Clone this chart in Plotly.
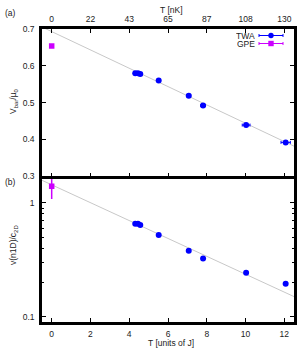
import numpy as np
import plotly.graph_objects as go

# ---- data ----
T_twa = [4.31, 4.45, 4.57, 5.52, 7.07, 7.81, 10.03, 12.07]          # T [units of J]
T_twa_err = [0.05, 0.05, 0.05, 0.08, 0.10, 0.12, 0.20, 0.24]
Vbar_twa = [0.580, 0.580, 0.578, 0.560, 0.519, 0.492, 0.439, 0.392]  # V_bar/mu_0
v_twa = [0.655, 0.655, 0.640, 0.523, 0.380, 0.325, 0.243, 0.195]     # v(n1D)/c_2D

T_gpe = [0.0]
Vbar_gpe = [0.654]
v_gpe = [1.40]
v_gpe_err_plus = [0.40]
v_gpe_err_minus = [0.32]

# fit lines (grey)
fitA_a, fitA_b = 0.693, -0.0249        # linear: V = a + b T
fitB_a, fitB_b = 1.44, -0.0785         # log: v = a * 10^(b T)

x_ticks = [0, 2, 4, 6, 8, 10, 12]
x_top_labels = ["0", "22", "43", "65", "87", "108", "130"]

BLUE = "#0000ff"
MAG = "#cc00ff"
GREY = "#c8c8c8"
TXT = "#222222"
FONT = "Liberation Sans"
FS = 8.5

T_line = np.linspace(-0.5, 12.5, 60)

fig = go.Figure()

# panel (a)
fig.add_trace(go.Scatter(x=T_line, y=fitA_a + fitA_b * T_line, mode="lines",
                         line=dict(color=GREY, width=1), xaxis="x2", yaxis="y2",
                         showlegend=False, hoverinfo="skip"))
fig.add_trace(go.Scatter(x=T_twa, y=Vbar_twa, mode="markers", xaxis="x2", yaxis="y2",
                         marker=dict(color=BLUE, size=6, symbol="circle"),
                         error_x=dict(type="data", array=T_twa_err, color=BLUE,
                                      thickness=1, width=1.5),
                         name="TWA", showlegend=False))
fig.add_trace(go.Scatter(x=T_gpe, y=Vbar_gpe, mode="markers", xaxis="x2", yaxis="y2",
                         marker=dict(color=MAG, size=5.5, symbol="square"),
                         name="GPE", showlegend=False))

# panel (b)
fig.add_trace(go.Scatter(x=T_line, y=fitB_a * 10 ** (fitB_b * T_line), mode="lines",
                         line=dict(color=GREY, width=1), xaxis="x", yaxis="y",
                         showlegend=False, hoverinfo="skip"))
fig.add_trace(go.Scatter(x=T_twa, y=v_twa, mode="markers", xaxis="x", yaxis="y",
                         marker=dict(color=BLUE, size=6, symbol="circle"),
                         showlegend=False))
fig.add_trace(go.Scatter(x=T_gpe, y=v_gpe, mode="markers", xaxis="x", yaxis="y",
                         marker=dict(color=MAG, size=5.5, symbol="square"),
                         error_y=dict(type="data", symmetric=False, array=v_gpe_err_plus,
                                      arrayminus=v_gpe_err_minus, color=MAG,
                                      thickness=1.5, width=0),
                         showlegend=False))

# geometry in pixels
W, H = 300, 350
L, R, Tm, B = 42, 6, 29, 28
pw, ph = W - L - R, H - Tm - B
split = (322 - 175) / ph
LW = 2.5
half = (LW / 2) / ph

axis_common = dict(showline=True, linecolor="black", linewidth=LW, mirror="ticks",
                   ticks="inside", ticklen=4, tickwidth=1, tickcolor="black",
                   showgrid=False, zeroline=False, automargin=False,
                   tickfont=dict(family=FONT, size=FS, color=TXT))

fig.update_layout(
    width=W, height=H,
    margin=dict(l=L, r=R, t=Tm, b=B, pad=0, autoexpand=False),
    plot_bgcolor="white", paper_bgcolor="white",
    showlegend=False,
    font=dict(family=FONT, size=FS, color=TXT),
    xaxis=dict(domain=[0, 1], anchor="y", range=[-0.5, 12.5],
               tickvals=x_ticks, ticktext=[str(v) for v in x_ticks],
               ticklabelstandoff=2, **axis_common),
    yaxis=dict(domain=[0, split + half], anchor="x", type="log",
               range=[np.log10(0.09), np.log10(1.8)],
               tickvals=[0.1, 1], ticktext=["0.1", "1"],
               minor=dict(tickvals=[0.2, 0.3, 0.4, 0.5, 0.6, 0.7, 0.8, 0.9],
                          ticks="inside", ticklen=2.5, tickcolor="black", showgrid=False),
               ticklabelstandoff=3, **axis_common),
    xaxis2=dict(domain=[0, 1], anchor="y2", side="top", range=[-0.5, 12.5],
                tickvals=x_ticks, ticktext=x_top_labels, ticklabelstandoff=1,
                **axis_common),
    yaxis2=dict(domain=[split - half, 1], anchor="x2", range=[0.3, 0.7],
                tickvals=[0.3, 0.4, 0.5, 0.6, 0.7], tickformat=".1f",
                ticklabelstandoff=3, **axis_common),
)

def px2x(px):
    return (px - L) / pw

def px2y(py):
    return (H - B - py) / ph

ann = [
    dict(text="(a)", x=px2x(10), y=px2y(13)),
    dict(text="(b)", x=px2x(10), y=px2y(182)),
    dict(text="T [nK]", x=px2x(171), y=px2y(10)),
    dict(text="T [units of J]", x=px2x(171), y=px2y(342.5)),
    dict(text="V<sub>bar</sub>/μ<sub>0</sub>", x=px2x(13), y=px2y(101), textangle=-90),
    dict(text="v(n1D)/c<sub>2D</sub>", x=px2x(13), y=px2y(245), textangle=-90),
    dict(text="TWA", x=px2x(257), y=px2y(35.5), xanchor="right", height=7),
    dict(text="GPE", x=px2x(257), y=px2y(43.5), xanchor="right", height=7),
]
for a in ann:
    a.setdefault("xanchor", "center")
    fig.add_annotation(xref="paper", yref="paper", showarrow=False,
                       yanchor="middle", font=dict(family=FONT, size=FS, color=TXT), **a)

# manual key samples (gnuplot-style: symbol to the right of the label)
for py, col, kind in [(35.5, BLUE, "circle"), (43.5, MAG, "square")]:
    y0 = px2y(py)
    fig.add_shape(type="line", xref="paper", yref="paper", x0=px2x(259), x1=px2x(283),
                  y0=y0, y1=y0, line=dict(color=col, width=1))
    for xe in (259, 283):
        fig.add_shape(type="line", xref="paper", yref="paper", x0=px2x(xe), x1=px2x(xe),
                      y0=px2y(py - 1.5), y1=px2y(py + 1.5), line=dict(color=col, width=1))
    r = 2.7
    fig.add_shape(type=("circle" if kind == "circle" else "rect"), xref="paper", yref="paper",
                  x0=px2x(271 - r), x1=px2x(271 + r), y0=px2y(py - r), y1=px2y(py + r),
                  fillcolor=col, line=dict(color=col, width=0))

fig.write_html("out.html", config={"displayModeBar": False},
               post_script="document.body.style.margin='0';document.body.style.padding='0';")
